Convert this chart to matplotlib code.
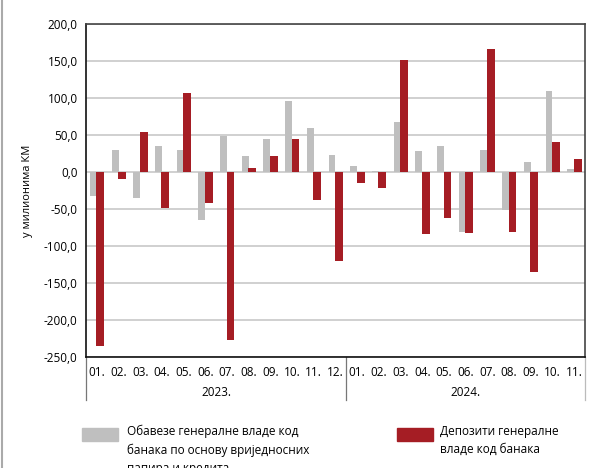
import matplotlib.pyplot as plt
from matplotlib.lines import Line2D
from matplotlib.patches import Rectangle
import numpy as np

plt.rcParams['font.family'] = ['Open Sans', 'DejaVu Sans']

months = ['01.', '02.', '03.', '04.', '05.', '06.', '07.', '08.', '09.', '10.', '11.', '12.',
          '01.', '02.', '03.', '04.', '05.', '06.', '07.', '08.', '09.', '10.', '11.']
years = ['2023.', '2024.']
months_per_year = [12, 11]

# Обавезе генералне владе код банака по основу вриједносних папира и кредита
obaveze = [-33, 30, -35, 35, 30, -65, 49, 22, 44, 96, 59, 23,
           8, 1, 68, 29, 35, -81, 30, -51, 13, 110, 4]
# Депозити генералне владе код банака
depoziti = [-235, -9, 54, -48, 107, -42, -227, 6, 22, 45, -38, -120,
            -15, -21, 151, -84, -62, -82, 166, -81, -135, 40, 18]

yticks = [-250, -200, -150, -100, -50, 0, 50, 100, 150, 200]

gray = '#bfbfbf'
red = '#a51d24'


def main():
    fig = plt.figure(figsize=(6, 4.68), dpi=100)
    ax = fig.add_axes([0.1433, 0.2372, 0.8317, 0.7115])
    x = np.arange(len(months))

    ax.bar(x - 0.16, obaveze, width=0.32, color=gray, zorder=2)
    ax.bar(x + 0.16, depoziti, width=0.36, color=red, zorder=3)

    ax.set_xlim(-0.5, len(months) - 0.5)
    ax.set_ylim(-250, 200)
    ax.set_yticks(yticks)
    ax.set_yticklabels([f'{v:.1f}'.replace('.', ',') for v in yticks], fontsize=8.5)
    ax.tick_params(axis='y', length=0, pad=6)
    ax.set_xticks([])
    ax.grid(axis='y', color='#c8c8c8', linewidth=1.2, zorder=0)
    for s in ['top', 'right']:
        ax.spines[s].set_color('#444444')
    for s in ['left', 'bottom']:
        ax.spines[s].set_color('#111111')
    for s in ax.spines.values():
        s.set_linewidth(1.2)
    ax.set_ylabel('у милионима КМ', fontsize=8, labelpad=8)

    trans = ax.get_xaxis_transform()
    for i, m in enumerate(months):
        ax.text(i, -0.048, m, transform=trans, ha='center', va='center', fontsize=8.5)
    start = 0
    bounds = [-0.5]
    for yr, n in zip(years, months_per_year):
        ax.text(start + (n - 1) / 2, -0.108, yr, transform=trans, ha='center',
                va='center', fontsize=8.5)
        start += n
        bounds.append(start - 0.5)
    for i, b in enumerate(bounds):
        col = '#bbbbbb' if i == len(bounds) - 1 else '#777777'
        ax.add_line(Line2D([b, b], [0, -0.129], transform=trans, color=col,
                           linewidth=0.9, clip_on=False))

    # left border line of the figure
    fig.add_artist(Line2D([0.004, 0.004], [0, 1], transform=fig.transFigure,
                          color='#aaaaaa', linewidth=1.5))

    # legend
    fig.add_artist(Rectangle((82 / 600, 1 - 441 / 468), 36 / 600, 13 / 468,
                             transform=fig.transFigure, color=gray))
    fig.add_artist(Rectangle((397 / 600, 1 - 441 / 468), 36 / 600, 13 / 468,
                             transform=fig.transFigure, color=red))
    fig.text(127 / 600, 1 - 425 / 468,
             'Обавезе генералне владе код\nбанака по основу вриједносних\nпапира и кредита',
             fontsize=8.5, va='top', ha='left', linespacing=1.5)
    fig.text(440 / 600, 1 - 425 / 468,
             'Депозити генералне\nвладе код банака',
             fontsize=8.5, va='top', ha='left', linespacing=1.5)

    fig.savefig('out.png', dpi=100)


if __name__ == "__main__":
    main()
